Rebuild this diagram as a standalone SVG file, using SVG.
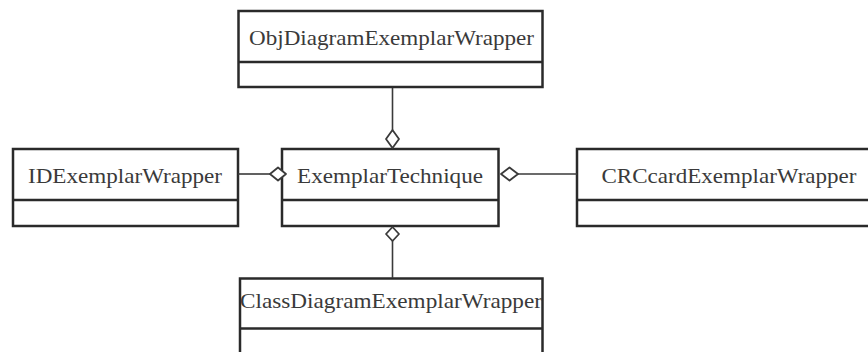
<svg xmlns="http://www.w3.org/2000/svg" width="868" height="352" viewBox="0 0 868 352">
  <style>
    .box { fill: #ffffff; stroke: #2a2a2a; stroke-width: 2.5; }
    .div { stroke: #2a2a2a; stroke-width: 2.5; }
    .lbl { font-family: "Liberation Serif", "Times New Roman", serif; font-size: 22px; fill: #3a3a3a; text-anchor: middle; }
    .conn { stroke: #3a3a3a; stroke-width: 1.6; fill: none; }
    .agg { fill: #ffffff; stroke: #3a3a3a; stroke-width: 1.8; stroke-linejoin: round; }
  </style>
  <rect width="868" height="352" fill="#ffffff"/>

  <g id="ObjDiagramExemplarWrapper">
    <rect class="box" x="238.5" y="11" width="304" height="76"/>
    <line class="div" x1="238.5" y1="62" x2="542.5" y2="62"/>
    <text class="lbl" x="391.5" y="45" textLength="285" lengthAdjust="spacingAndGlyphs">ObjDiagramExemplarWrapper</text>
  </g>

  <g id="IDExemplarWrapper">
    <rect class="box" x="13" y="149" width="225" height="77"/>
    <line class="div" x1="13" y1="200" x2="238" y2="200"/>
    <text class="lbl" x="125" y="183" textLength="194" lengthAdjust="spacingAndGlyphs">IDExemplarWrapper</text>
  </g>

  <g id="ExemplarTechnique">
    <rect class="box" x="282" y="149" width="216.5" height="77"/>
    <line class="div" x1="282" y1="200" x2="498.5" y2="200"/>
    <text class="lbl" x="390" y="183" textLength="186" lengthAdjust="spacingAndGlyphs">ExemplarTechnique</text>
  </g>

  <g id="CRCcardExemplarWrapper">
    <rect class="box" x="577" y="149" width="304" height="77"/>
    <line class="div" x1="577" y1="200" x2="881" y2="200"/>
    <text class="lbl" x="729" y="183" textLength="255" lengthAdjust="spacingAndGlyphs">CRCcardExemplarWrapper</text>
  </g>

  <g id="ClassDiagramExemplarWrapper">
    <rect class="box" x="240" y="278.5" width="302.5" height="90"/>
    <line class="div" x1="240" y1="328.5" x2="542.5" y2="328.5"/>
    <text class="lbl" x="391" y="308" textLength="302" lengthAdjust="spacingAndGlyphs">ClassDiagramExemplarWrapper</text>
  </g>

  <g id="connectors">
    <!-- ObjDiagramExemplarWrapper to ExemplarTechnique -->
    <line class="conn" x1="392.5" y1="88" x2="392.5" y2="130"/>
    <polygon class="agg" points="392.5,130 399,139 392.5,148 386,139"/>
    <!-- IDExemplarWrapper to ExemplarTechnique -->
    <line class="conn" x1="238" y1="174" x2="270" y2="174"/>
    <polygon class="agg" points="270,174 278,167.5 286,174 278,180.5"/>
    <!-- CRCcardExemplarWrapper to ExemplarTechnique -->
    <line class="conn" x1="518" y1="174" x2="577" y2="174"/>
    <polygon class="agg" points="501,174 509.5,167.5 518,174 509.5,180.5"/>
    <!-- ClassDiagramExemplarWrapper to ExemplarTechnique -->
    <line class="conn" x1="392.5" y1="241" x2="392.5" y2="278"/>
    <polygon class="agg" points="392.5,227 399,234 392.5,241 386,234"/>
  </g>
</svg>
